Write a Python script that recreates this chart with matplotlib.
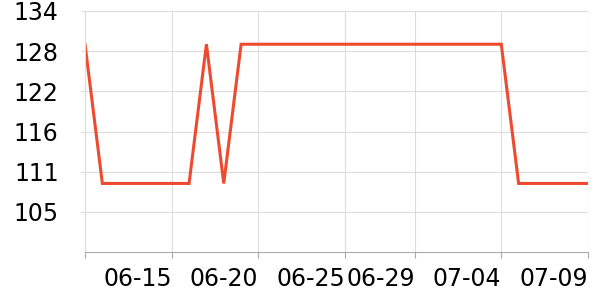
import matplotlib
matplotlib.use('Agg')
import matplotlib.pyplot as plt
from datetime import date, timedelta

# daily values, 06-10 .. 07-09
start = date(2024, 6, 10)
values = [129.4,
          109.3, 109.3, 109.3, 109.3, 109.3, 109.3,
          129.4, 109.3,
          129.4, 129.4, 129.4, 129.4, 129.4, 129.4, 129.4, 129.4,
          129.4, 129.4, 129.4, 129.4, 129.4, 129.4, 129.4, 129.4,
          109.3, 109.3, 109.3, 109.3, 109.3]
days = [start + timedelta(days=i) for i in range(len(values))]

x_tick_dates = [date(2024, 6, 10), date(2024, 6, 15), date(2024, 6, 20), date(2024, 6, 25),
                date(2024, 6, 29), date(2024, 7, 4), date(2024, 7, 9)]
x_tick_labels = ['', '06-15', '06-20', '06-25', '06-29', '07-04', '07-09']
y_ticks = [105.2, 111.0, 116.8, 122.6, 128.4, 134.2]
y_tick_labels = ['105', '111', '116', '122', '128', '134']

fig = plt.figure(figsize=(6, 3), dpi=100)
ax = fig.add_axes([85/600, 48/300, (588-85)/600, (252-11)/300])

ax.plot(days, values, color='#ee4a2f', linewidth=2.2, solid_joinstyle='miter')

ax.set_xlim(days[0], days[-1])
ax.set_ylim(99.4, 134.2)
ax.set_xticks(x_tick_dates)
ax.set_xticklabels(x_tick_labels, ha='right')
ax.set_yticks(y_ticks)
ax.set_yticklabels(y_tick_labels)

ax.grid(True, color='#dddddd', linewidth=0.8)
ax.set_axisbelow(True)
for s in ['top', 'right']:
    ax.spines[s].set_visible(False)
ax.spines['left'].set_color('#dddddd')
ax.spines['bottom'].set_color('#aaaaaa')
ax.tick_params(axis='x', length=4, color='#aaaaaa', labelsize=17, pad=7)
ax.tick_params(axis='y', length=3, color='#dddddd', labelsize=17, pad=16)

fig.savefig('out.png', dpi=100)
